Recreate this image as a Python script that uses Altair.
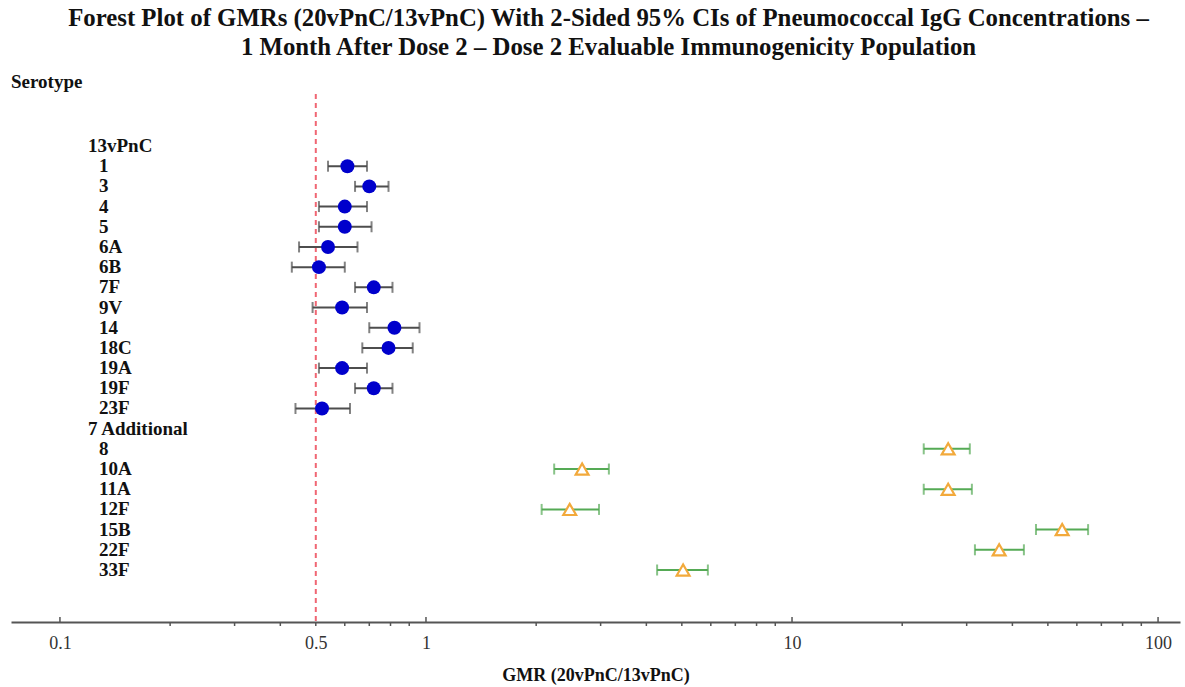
import altair as alt
import pandas as pd

# Row order of the forest plot (group headers and serotypes)
rows = ["13vPnC", "1", "3", "4", "5", "6A", "6B", "7F", "9V", "14", "18C",
        "19A", "19F", "23F", "7 Additional", "8", "10A", "11A", "12F", "15B",
        "22F", "33F"]
headers = ["13vPnC", "7 Additional"]

# 13 serotypes shared with 13vPnC
pcv13_serotypes = ["1", "3", "4", "5", "6A", "6B", "7F", "9V", "14", "18C", "19A", "19F", "23F"]
pcv13_gmr = [0.61, 0.70, 0.60, 0.60, 0.54, 0.51, 0.72, 0.59, 0.82, 0.79, 0.59, 0.72, 0.52]
pcv13_lower = [0.54, 0.64, 0.51, 0.51, 0.45, 0.43, 0.64, 0.49, 0.70, 0.67, 0.51, 0.64, 0.44]
pcv13_upper = [0.69, 0.79, 0.69, 0.71, 0.65, 0.60, 0.81, 0.69, 0.96, 0.92, 0.69, 0.81, 0.62]

# 7 additional serotypes
add7_serotypes = ["8", "10A", "11A", "12F", "15B", "22F", "33F"]
add7_gmr = [26.7, 2.67, 26.7, 2.47, 54.7, 36.8, 5.04]
add7_lower = [22.9, 2.24, 22.9, 2.07, 46.4, 31.6, 4.28]
add7_upper = [30.6, 3.16, 31.0, 2.97, 64.4, 43.0, 5.89]

# Axis ticks
tick_labels = [0.1, 0.5, 1, 10, 100]
major_ticks = [0.1, 1, 10, 100]
minor_ticks = [0.2, 0.3, 0.4, 0.5, 0.6, 0.7, 0.8, 0.9,
               2, 3, 4, 5, 6, 7, 8, 9,
               20, 30, 40, 50, 60, 70, 80, 90]
ref_value = 0.5
x_domain = [0.0735, 114.8]

FONT = "Liberation Serif"
W, H = 1169, 528

pcv13 = pd.DataFrame({"serotype": pcv13_serotypes, "gmr": pcv13_gmr,
                      "lower": pcv13_lower, "upper": pcv13_upper})
add7 = pd.DataFrame({"serotype": add7_serotypes, "gmr": add7_gmr,
                     "lower": add7_lower, "upper": add7_upper})
labels = pd.DataFrame({"row": rows, "is_header": [r in headers for r in rows]})

x_scale = alt.Scale(type="log", domain=x_domain, range=[0, W], nice=False)
y_scale = alt.Scale(domain=rows, type="point", padding=0, range=[52, 476])

X = lambda f, **kw: alt.X(f, type="quantitative", scale=x_scale, **kw)
Y = alt.Y("serotype:N", scale=y_scale, axis=None)

# x axis with labels only; ticks are drawn as separate rules
axis_layer = alt.Chart(pd.DataFrame({"v": [ref_value]})).mark_rule(opacity=0).encode(
    x=X("v", axis=alt.Axis(values=tick_labels, ticks=False, grid=False,
                           labelExpr="datum.value", labelFont=FONT, labelFontSize=18,
                           labelColor="#333333", labelPadding=12,
                           domainColor="#555555", domainWidth=2,
                           title="GMR (20vPnC/13vPnC)", titleFont=FONT,
                           titleFontSize=18, titleFontWeight="bold",
                           titleColor="#111111", titlePadding=14,
                           labelFlush=False)),
)

major = alt.Chart(pd.DataFrame({"v": major_ticks})).mark_rule(
    color="#555555", strokeWidth=1.5).encode(
    x=X("v"), y=alt.value(H), y2=alt.value(H - 5))
minor = alt.Chart(pd.DataFrame({"v": minor_ticks})).mark_rule(
    color="#555555", strokeWidth=1.5).encode(
    x=X("v"), y=alt.value(H), y2=alt.value(H + 4))

ref = alt.Chart(pd.DataFrame({"v": [ref_value]})).mark_rule(
    color="#f06673", strokeWidth=2, strokeDash=[5, 4]).encode(
    x=X("v"), y=alt.value(0), y2=alt.value(H))


def ci_layers(df, color):
    base = alt.Chart(df)
    line = base.mark_rule(color=color, strokeWidth=2).encode(
        x=X("lower"), x2="upper", y=Y)
    cap_lo = base.mark_tick(color=color, thickness=2, size=11, orient="vertical").encode(
        x=X("lower"), y=Y)
    cap_hi = base.mark_tick(color=color, thickness=2, size=11, orient="vertical").encode(
        x=X("upper"), y=Y)
    return [line, cap_lo, cap_hi]


pcv13_points = alt.Chart(pcv13).mark_point(
    shape="circle", filled=True, color="#0000cc", size=195, opacity=1).encode(
    x=X("gmr"), y=Y)
add7_points = alt.Chart(add7).mark_point(
    shape="triangle-up", filled=False, color="#f2a93b", fill="white",
    fillOpacity=1, strokeWidth=2.2, size=165, opacity=1).encode(
    x=X("gmr"), y=Y)

Yr = alt.Y("row:N", scale=y_scale, axis=None)
header_text = alt.Chart(labels).transform_filter("datum.is_header").mark_text(
    align="left", baseline="middle", font=FONT, fontSize=19, fontWeight="bold",
    color="#111111").encode(y=Yr, x=alt.value(77), text="row:N")
sero_text = alt.Chart(labels).transform_filter("!datum.is_header").mark_text(
    align="left", baseline="middle", font=FONT, fontSize=19, fontWeight="bold",
    color="#111111").encode(y=Yr, x=alt.value(88), text="row:N")

serotype_label = alt.Chart(pd.DataFrame({"t": ["Serotype"]})).mark_text(
    align="left", baseline="middle", font=FONT, fontSize=19, fontWeight="bold",
    color="#111111").encode(x=alt.value(0), y=alt.value(-12), text="t:N")

chart = alt.layer(
    axis_layer, ref, major, minor,
    *ci_layers(pcv13, "#4d4d4d"), pcv13_points,
    *ci_layers(add7, "#55aa55"), add7_points,
    header_text, sero_text, serotype_label,
).properties(
    width=W, height=H,
    background="white",
    title=alt.TitleParams(
        text=["Forest Plot of GMRs (20vPnC/13vPnC) With 2-Sided 95% CIs of Pneumococcal IgG Concentrations \u2013",
              "1 Month After Dose 2 \u2013 Dose 2 Evaluable Immunogenicity Population"],
        font=FONT, fontSize=24.8, fontWeight="bold", color="#111111",
        anchor="middle", frame="group", dx=13, lineHeight=29, offset=13),
    autosize=alt.AutoSizeParams(type="none"),
    padding={"left": 11, "top": 94, "right": 5, "bottom": 65},
).configure_view(stroke=None)

chart.save("out.html", embed_options={"renderer": "svg", "actions": False})
